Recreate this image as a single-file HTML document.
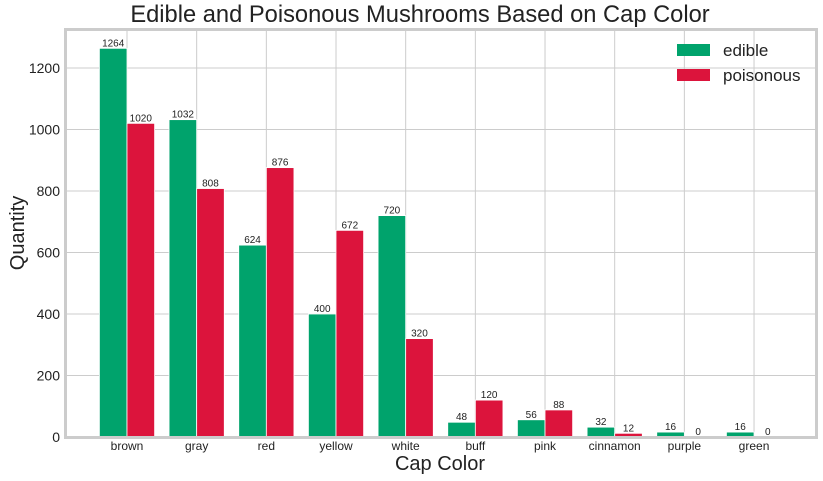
<!DOCTYPE html>
<html><head><meta charset="utf-8"><style>
body{margin:0;background:#fff;}
svg{display:block;font-family:"Liberation Sans",sans-serif;}
</style></head><body>
<svg id="chart" width="823" height="481">
<text x="420" y="22" text-anchor="middle" font-size="23.7" fill="#222">Edible and Poisonous Mushrooms Based on Cap Color</text>
<g id="grid"></g><g id="bars"></g><g id="labels"></g>
<rect x="65.5" y="29.5" width="751" height="408" fill="none" stroke="#ccc" stroke-width="3"/>
<text x="440" y="470" text-anchor="middle" font-size="20" fill="#222">Cap Color</text>
<text transform="translate(24,233) rotate(-90)" text-anchor="middle" font-size="20" fill="#222">Quantity</text>
<g>
<rect x="677" y="44" width="33" height="12" fill="#00a36c"/>
<text x="723" y="56" font-size="17" fill="#222">edible</text>
<rect x="677" y="69" width="33" height="12" fill="#dc143c"/>
<text x="723" y="81" font-size="17" fill="#222">poisonous</text>
</g>
</svg>
<script>
const categories=["brown","gray","red","yellow","white","buff","pink","cinnamon","purple","green"];
const edible=[1264,1032,624,400,720,48,56,32,16,16];
const poisonous=[1020,808,876,672,320,120,88,12,0,0];
const yTicks=[0,200,400,600,800,1000,1200];
const NS="http://www.w3.org/2000/svg";
function y(v){return 437-v*0.3075;}
function xc(i){return 127+i*69.67;}
const bw=27.6;
function mk(tag,attrs,parent){const e=document.createElementNS(NS,tag);for(const k in attrs)e.setAttribute(k,attrs[k]);parent.appendChild(e);return e;}
const grid=document.getElementById('grid'),bars=document.getElementById('bars'),labels=document.getElementById('labels');
yTicks.forEach(t=>{
 const l=mk('line',{x1:66,x2:816,y1:y(t),y2:y(t),stroke:'#ccc','stroke-width':1},grid);
 
 
 const tx=mk('text',{x:60,y:y(t)+5,'text-anchor':'end','font-size':14,fill:'#222'},labels);
 tx.textContent=t;
 
 
});
categories.forEach((c,i)=>{
 const g=mk('line',{x1:xc(i),x2:xc(i),y1:30,y2:437,stroke:'#ccc','stroke-width':1},grid);
 
 
 const tx=mk('text',{x:xc(i),y:450,'text-anchor':'middle','font-size':12,fill:'#222'},labels);
 tx.textContent=c;
 
 
 [[edible[i],xc(i)-bw,'#00a36c','edible'],[poisonous[i],xc(i),'#dc143c','poisonous']].forEach(([v,x0,col,s])=>{
  const r=mk('rect',{x:x0,y:y(v),width:bw,height:437-y(v),fill:col,stroke:'#fff','stroke-width':0.8},bars);
  
  
  const vt=mk('text',{x:x0+bw/2,y:y(v)-2,'text-anchor':'middle','font-size':10,fill:'#222'},labels);
  vt.textContent=v;
  
  
 });
});
</script>
</body></html>
